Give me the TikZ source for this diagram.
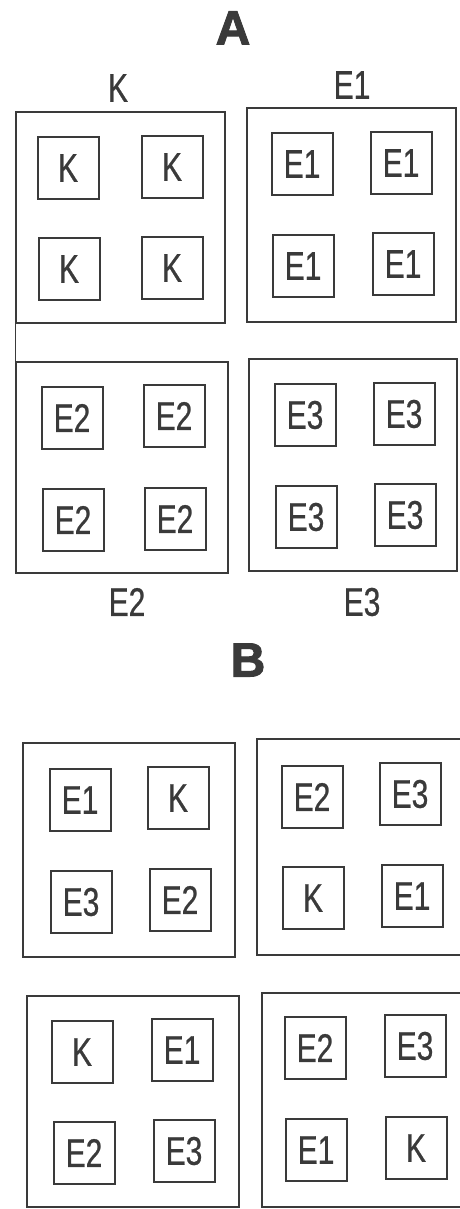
\documentclass[tikz,border=0pt]{standalone}
\usepackage{fontspec}
\setmainfont{Liberation Sans}[FakeStretch=0.75, FakeBold=0.6]
\newfontfamily\ttlfont{Liberation Sans Bold}[FakeBold=2]
\definecolor{ink}{HTML}{3A3A3A}
\begin{document}
\begin{tikzpicture}[x=1pt,y=-1pt,
  outer/.style={draw=ink, line width=1.5pt, inner sep=0pt},
  cell/.style={draw=ink, line width=2pt, minimum width=61pt, minimum height=62pt, inner sep=0pt,
    text=ink, font=\fontsize{40}{44}\selectfont},
  lbl/.style={text=ink, inner sep=0pt, font=\fontsize{40}{44}\selectfont},
  ttl/.style={text=ink, inner sep=0pt, font=\fontsize{48}{52}\ttlfont}]
\useasboundingbox (0,0) rectangle (460,1209);
\clip (0,0) rectangle (460,1209);
\fill[white] (0,0) rectangle (460,1209);
% titles
\node[ttl] (tA) at (233,28) {A};
\node[ttl] (tB) at (248,660) {B};
% A outer boxes
\node[outer, minimum width=209pt, minimum height=211pt] (ak) at (120.5,217.5) {};
\node[outer, minimum width=209pt, minimum height=214pt] (ae1) at (351.5,215) {};
\node[outer, minimum width=212pt, minimum height=211pt] (ae2) at (122,467.5) {};
\node[outer, minimum width=208pt, minimum height=212pt] (ae3) at (353,465) {};
\draw[ink, line width=1.5pt] (ak.south west) -- (ae2.north west);
% A labels
\node[lbl] (lk) at (118,88) {K};
\node[lbl] (le1) at (352,85) {E1};
\node[lbl] (le2) at (127,602) {E2};
\node[lbl] (le3) at (362,602) {E3};
% A cells
\node[cell] (k1) at (68,168) {K};
\node[cell] (k2) at (172,167) {K};
\node[cell] (k3) at (69,269) {K};
\node[cell] (k4) at (172,268) {K};
\node[cell] (a1) at (302,164) {E1};
\node[cell] (a2) at (401,163) {E1};
\node[cell] (a3) at (303,266) {E1};
\node[cell] (a4) at (403,264) {E1};
\node[cell] (b1) at (72,418) {E2};
\node[cell] (b2) at (174,416) {E2};
\node[cell] (b3) at (73,520) {E2};
\node[cell] (b4) at (175,519) {E2};
\node[cell] (c1) at (305,415) {E3};
\node[cell] (c2) at (404,414) {E3};
\node[cell] (c3) at (306,517) {E3};
\node[cell] (c4) at (405,515) {E3};
% B outer boxes
\node[outer, minimum width=212pt, minimum height=214pt] (bb1) at (129,850) {};
\node[outer, minimum width=213pt, minimum height=216pt] (bb2) at (363.5,847) {};
\node[outer, minimum width=212pt, minimum height=211pt] (bb3) at (133,1101.5) {};
\node[outer, minimum width=212pt, minimum height=214pt] (bb4) at (368,1100) {};
% B cells
\node[cell] (p1) at (80,800) {E1};
\node[cell] (p2) at (178,798) {K};
\node[cell] (p3) at (81,902) {E3};
\node[cell] (p4) at (180,900) {E2};
\node[cell] (q1) at (312,797) {E2};
\node[cell] (q2) at (410,794) {E3};
\node[cell] (q3) at (313,898) {K};
\node[cell] (q4) at (412,896) {E1};
\node[cell] (r1) at (82,1052) {K};
\node[cell] (r2) at (182,1050) {E1};
\node[cell] (r3) at (84,1153) {E2};
\node[cell] (r4) at (184,1151) {E3};
\node[cell] (s1) at (315,1048) {E2};
\node[cell] (s2) at (415,1046) {E3};
\node[cell] (s3) at (316,1150) {E1};
\node[cell] (s4) at (416,1148) {K};
\end{tikzpicture}
\end{document}
